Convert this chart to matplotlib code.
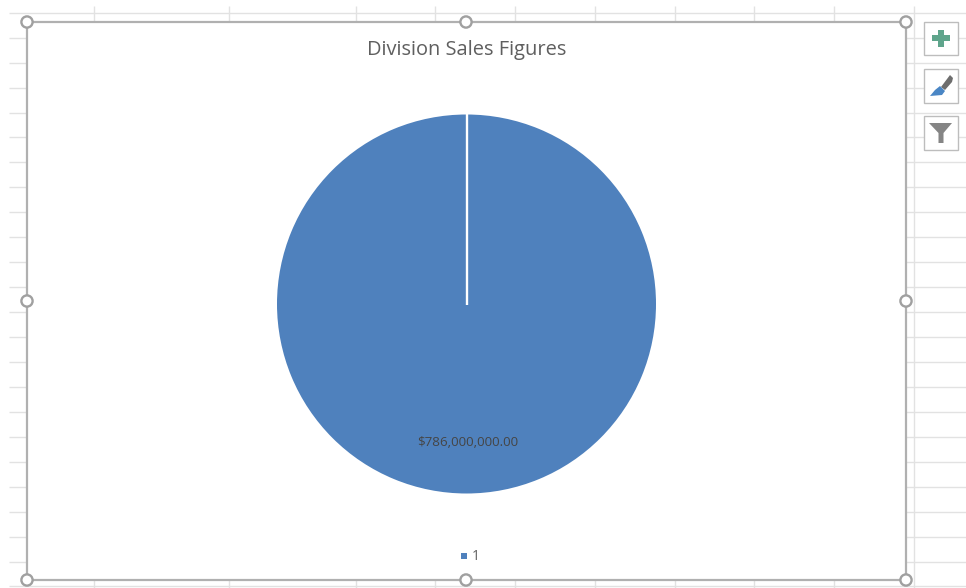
import matplotlib
matplotlib.use("Agg")
import matplotlib.pyplot as plt
from matplotlib.patches import Rectangle, Circle, Polygon

# Data
title = "Division Sales Figures"
categories = ["1"]
sales = [786000000.0]

# Screenshot furniture (sheet grid, selection frame)
grid_rows = [13, 37.6, 62.6, 87.6, 112.6, 137.4, 162.4, 187.4, 212.3, 237.3, 262.3, 286.8,
             312, 337, 362, 387, 412, 437, 462, 487, 511.7, 536.7, 561.7, 586.3]
grid_cols = [94, 228.5, 355.5, 435, 515, 595, 674.5, 754, 834, 914]
frame = (27, 22, 906, 580)
handle_x = [27, 466, 906]
handle_y = [22, 301, 580]

BLUE = "#4f81bd"
GRID = "#e2e2e2"
FRAME = "#b0b0b0"
TEXT = "#5f5f5f"
FONT = ["Open Sans", "DejaVu Sans"]

fig = plt.figure(figsize=(9.66, 5.88), dpi=100, facecolor="white")
ax = fig.add_axes([0, 0, 1, 1])

wedges, _ = ax.pie(sales, center=(466.5, 304), radius=189.5, startangle=-90,
                   colors=[BLUE], wedgeprops={"linewidth": 0})
ax.set_xlim(0, 966)
ax.set_ylim(588, 0)
ax.set_aspect("auto")
ax.axis("off")

# sheet grid
for y in grid_rows:
    ax.plot([9, 966], [y, y], color=GRID, lw=1.0, zorder=0.2, solid_capstyle="butt")
for x in grid_cols:
    ax.plot([x, x], [6, 588], color=GRID, lw=1.0, zorder=0.2, solid_capstyle="butt")

# chart area
x0, y0, x1, y1 = frame
ax.add_patch(Rectangle((x0, y0), x1 - x0, y1 - y0, facecolor="white",
                       edgecolor=FRAME, lw=1.6, zorder=0.6))

# seam of the single full-circle slice
ax.plot([466.5, 466.5], [114, 304.5], color="white", lw=1.7, zorder=2, solid_capstyle="butt")

# texts
ax.text(466.8, 50, title, ha="center", va="center", fontsize=14.4, color=TEXT, family=FONT)
ax.text(468, 442.5, f"${sales[0]:,.2f}", ha="center", va="center", fontsize=9.6, color="#454545", family=FONT)

# legend
ax.add_patch(Rectangle((461, 553), 6, 6, facecolor=BLUE, edgecolor="none", zorder=3))
ax.text(475.5, 556.5, categories[0], ha="center", va="center", fontsize=9.8, color=TEXT, family=FONT)

# selection handles
for hx in handle_x:
    for hy in handle_y:
        if hx == 466 and hy == 301:
            continue
        ax.add_patch(Circle((hx, hy), 5.6, facecolor="white", edgecolor="#a0a0a0", lw=1.7, zorder=4))

# side buttons
for by0, by1 in [(21.5, 55), (69, 102.5), (116, 150)]:
    ax.add_patch(Rectangle((923.5, by0), 34, by1 - by0, facecolor="white",
                           edgecolor="#bdbdbd", lw=1.0, zorder=3))
# plus
ax.add_patch(Rectangle((932, 35), 17.5, 6.2, facecolor="#5fa58c", edgecolor="none", zorder=4))
ax.add_patch(Rectangle((937.7, 29.5), 6.2, 17.5, facecolor="#5fa58c", edgecolor="none", zorder=4))
# brush
ax.add_patch(Polygon([[950, 75], [953, 78], [952, 82], [945, 90], [941, 87]], facecolor="#6e6e6e", edgecolor="none", zorder=4))
ax.add_patch(Polygon([[940, 86], [945, 91], [942, 95], [930, 96], [935, 90]], facecolor="#4a86c5", edgecolor="none", zorder=4))
# funnel
ax.add_patch(Polygon([[929, 123], [952, 123], [943.5, 133], [943.5, 143], [938.5, 143], [938.5, 133]],
                     facecolor="#858585", edgecolor="none", zorder=4))

fig.savefig("out.png", dpi=100, facecolor="white")
